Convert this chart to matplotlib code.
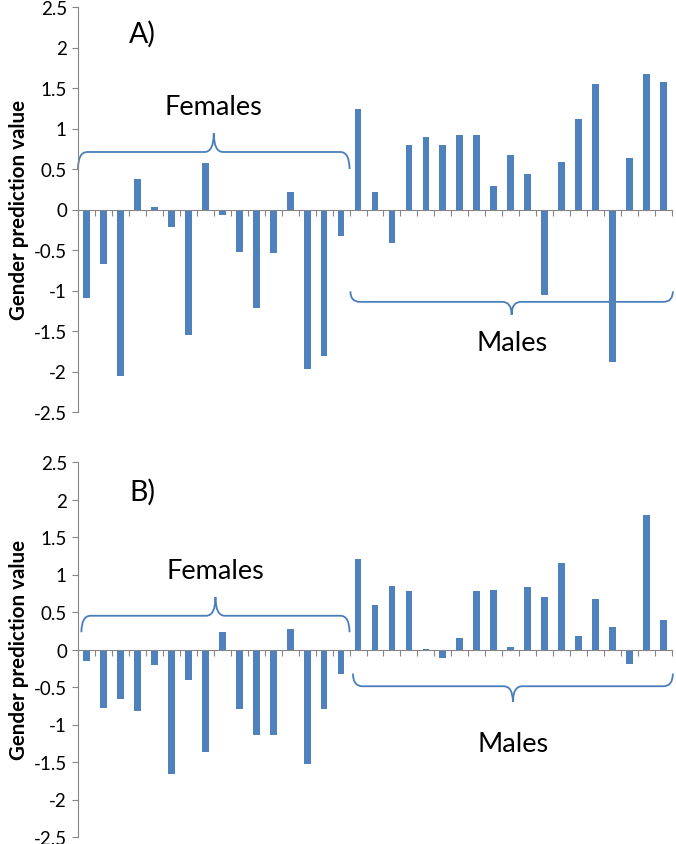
import matplotlib
matplotlib.use("Agg")
import matplotlib.pyplot as plt
from matplotlib.path import Path
from matplotlib.patches import PathPatch

plt.rcParams['font.family'] = ['Lato', 'DejaVu Sans']
plt.rcParams['axes.unicode_minus'] = False

# Gender prediction values, 16 females then 19 males
females_a = [-1.09, -0.67, -2.06, 0.38, 0.03, -0.22, -1.55, 0.58, -0.07, -0.53,
             -1.22, -0.54, 0.22, -1.97, -1.81, -0.33]
males_a = [1.24, 0.22, -0.41, 0.80, 0.90, 0.80, 0.92, 0.92, 0.29, 0.67,
           0.44, -1.05, 0.59, 1.12, 1.55, -1.88, 0.63, 1.67, 1.57]

females_b = [-0.15, -0.78, -0.66, -0.82, -0.20, -1.66, -0.41, -1.37, 0.23, -0.79,
             -1.14, -1.14, 0.28, -1.53, -0.79, -0.33]
males_b = [1.21, 0.59, 0.85, 0.78, 0.01, -0.11, 0.15, 0.78, 0.79, 0.03,
           0.83, 0.70, 1.15, 0.18, 0.67, 0.30, -0.19, 1.80, 0.39]

panel_labels = ["A)", "B)"]
yticks = [-2.5, -2, -1.5, -1, -0.5, 0, 0.5, 1, 1.5, 2, 2.5]

bar_color = "#4F81BD"
axis_gray = "#868686"
brace_color = "#4A7EBB"


# curly brace between x0 and x1; ends at y_end, straight part at y_line, tip at y_tip
def brace(ax, x0, x1, y_end, y_line, y_tip, r=0.55):
    xm = (x0 + x1) / 2
    verts = [(x0, y_end), (x0, y_line), (x0 + r, y_line),
             (xm - r, y_line),
             (xm, y_line), (xm, y_tip),
             (xm, y_line), (xm + r, y_line),
             (x1 - r, y_line),
             (x1, y_line), (x1, y_end)]
    codes = [Path.MOVETO, Path.CURVE3, Path.CURVE3,
             Path.LINETO,
             Path.CURVE3, Path.CURVE3,
             Path.CURVE3, Path.CURVE3,
             Path.LINETO,
             Path.CURVE3, Path.CURVE3]
    ax.add_patch(PathPatch(Path(verts, codes), facecolor="none",
                           edgecolor=brace_color, lw=1.3, clip_on=False))


def panel(ax, fem, mal, label, lab_y, fbrace, mbrace, ftext_y, mtext_y):
    vals = fem + mal
    xs = list(range(len(vals)))
    ax.bar(xs, vals, width=0.4, color=bar_color, zorder=2)
    ax.set_xlim(-0.5, len(vals) - 0.5)
    ax.set_ylim(-2.5, 2.5)
    ax.set_yticks(yticks)
    ax.set_yticklabels(["%g" % t for t in yticks])
    ax.set_xticks([i - 0.5 for i in range(len(vals) + 1)])
    ax.set_xticklabels([])
    for s in ["top", "right"]:
        ax.spines[s].set_visible(False)
    ax.spines["bottom"].set_position(("data", 0))
    ax.spines["bottom"].set_color(axis_gray)
    ax.spines["left"].set_color(axis_gray)
    ax.tick_params(axis="x", direction="out", length=4, color=axis_gray)
    ax.tick_params(axis="y", direction="out", length=4, color=axis_gray,
                   labelsize=13.5, pad=4)
    ax.set_ylabel("Gender prediction value", fontsize=14.8, fontweight="bold", labelpad=3)

    nf = len(fem)
    brace(ax, fbrace[0], nf - 0.5, fbrace[1], fbrace[2], fbrace[3])
    brace(ax, mbrace[0], len(vals) - 0.45, mbrace[1], mbrace[2], mbrace[3])
    ax.text((fbrace[0] + nf - 0.5) / 2, ftext_y, "Females", fontsize=19.5,
            ha="center", va="center")
    ax.text((mbrace[0] + len(vals) - 0.45) / 2, mtext_y, "Males", fontsize=19.5,
            ha="center", va="center")
    ax.text(3.3, lab_y, label, fontsize=20.5, ha="center", va="center")


fig = plt.figure(figsize=(6.76, 8.45), dpi=100)
axA = fig.add_axes([78 / 676, 1 - 413 / 845, 594 / 676, 405 / 845])
axB = fig.add_axes([78 / 676, 1 - 838 / 845, 594 / 676, 375 / 845])

panel(axA, females_a, males_a, panel_labels[0], 2.17,
      (-0.5, 0.5, 0.71, 0.94), (15.55, -1.01, -1.14, -1.30), 1.27, -1.64)
panel(axB, females_b, males_b, panel_labels[1], 2.11,
      (-0.3, 0.23, 0.45, 0.70), (15.7, -0.32, -0.49, -0.70), 1.05, -1.25)

fig.savefig("out.png", dpi=100)
